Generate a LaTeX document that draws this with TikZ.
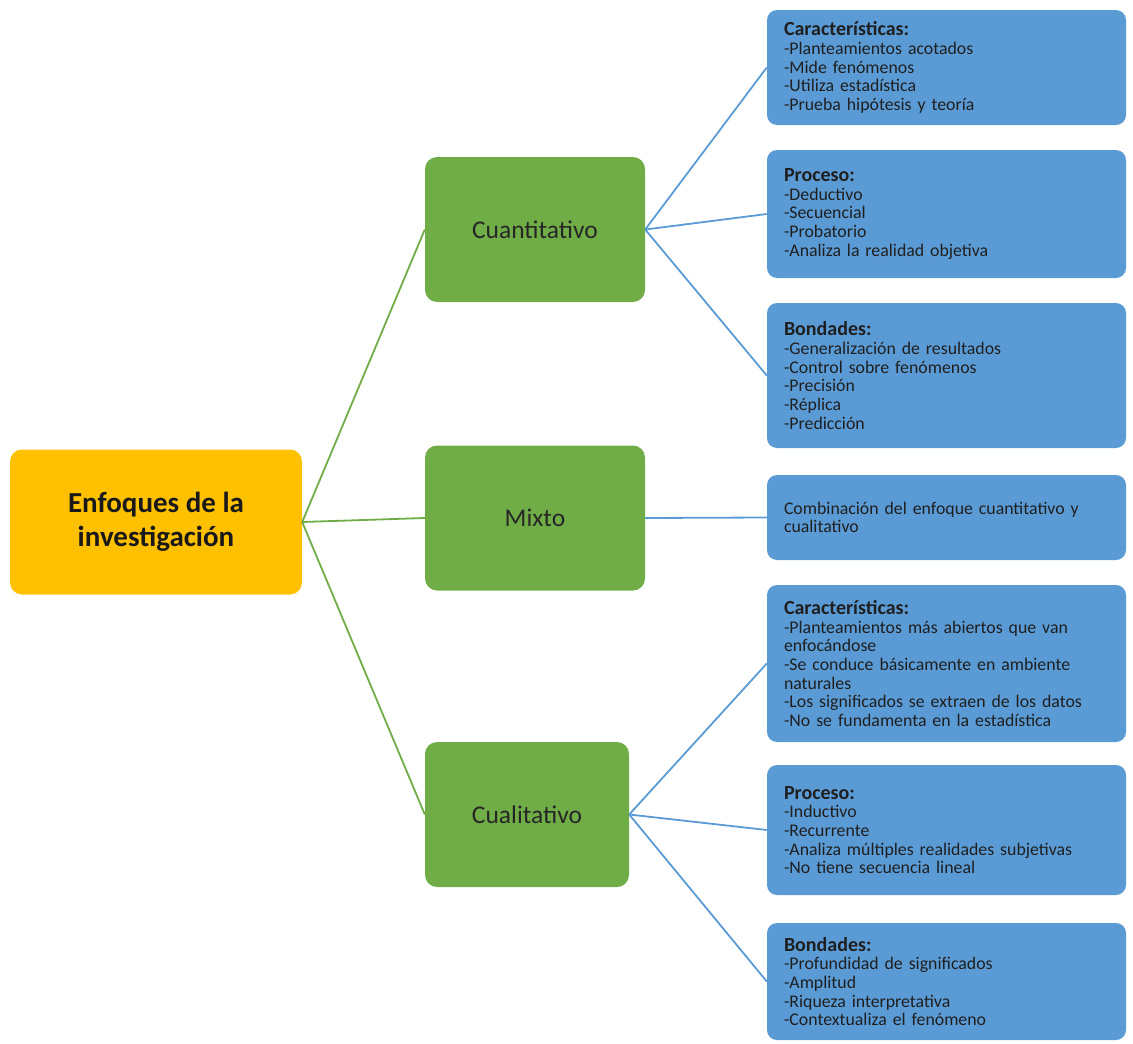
\documentclass[tikz,border=0pt]{standalone}
\usepackage{fontspec}
\setmainfont{Carlito}

\definecolor{rootyellow}{HTML}{FFC000}
\definecolor{approachgreen}{HTML}{70AD47}
\definecolor{infoblue}{HTML}{5B9BD5}

\newcommand{\boxhead}[1]{{\fontsize{20}{18.7}\selectfont\bfseries #1}}

\tikzset{
  rootbox/.style={fill=rootyellow, rounded corners=12pt, minimum width=292pt,
    minimum height=145pt, align=center, text=black!90,
    font=\fontsize{29}{34}\selectfont\bfseries},
  approachbox/.style={fill=approachgreen, rounded corners=12pt, minimum height=145pt,
    text=black!85, font=\fontsize{25.5}{30}\selectfont},
  infobox/.style={fill=infoblue, rounded corners=10pt, text width=325pt, inner xsep=17pt,
    align=left, text=black!88, font=\fontsize{17.8}{18.7}\selectfont},
  greenline/.style={draw=approachgreen, line width=1.8pt},
  blueline/.style={draw=infoblue, line width=1.8pt},
}

\begin{document}
\begin{tikzpicture}[x=1pt, y=-1pt]
\useasboundingbox (0,0) rectangle (1133,1044);

% Root
\node[rootbox] (enfoques) at (156,522) {Enfoques de la\\investigación};

% Approaches
\node[approachbox, minimum width=220pt] (cuanti) at (535,229.5) {Cuantitativo};
\node[approachbox, minimum width=220pt] (mixto) at (535,518) {Mixto};
\node[approachbox, minimum width=204pt] (cuali) at (527,814.5) {Cualitativo};

% Quantitative details
\node[infobox, minimum height=115pt] (cuantiCar) at (946.5,67.5)
  {\boxhead{Características:}\\-Planteamientos acotados\\-Mide fenómenos\\-Utiliza estadística\\-Prueba hipótesis y teoría};
\node[infobox, minimum height=128pt] (cuantiPro) at (946.5,214)
  {\boxhead{Proceso:}\\-Deductivo\\-Secuencial\\-Probatorio\\-Analiza la realidad objetiva};
\node[infobox, minimum height=145pt] (cuantiBon) at (946.5,375.5)
  {\boxhead{Bondades:}\\-Generalización de resultados\\-Control sobre fenómenos\\-Precisión\\-Réplica\\-Predicción};

% Mixed detail
\node[infobox, minimum height=85pt] (mixtoDesc) at (946.5,517.5)
  {Combinación del enfoque cuantitativo y\\cualitativo};

% Qualitative details
\node[infobox, minimum height=157pt] (cualiCar) at (946.5,663.5)
  {\boxhead{Características:}\\-Planteamientos más abiertos que van\\enfocándose\\-Se conduce básicamente en ambiente\\naturales\\-Los significados se extraen de los datos\\-No se fundamenta en la estadística};
\node[infobox, minimum height=130pt] (cualiPro) at (946.5,830)
  {\boxhead{Proceso:}\\-Inductivo\\-Recurrente\\-Analiza múltiples realidades subjetivas\\-No tiene secuencia lineal};
\node[infobox, minimum height=117pt] (cualiBon) at (946.5,981.5)
  {\boxhead{Bondades:}\\-Profundidad de significados\\-Amplitud\\-Riqueza interpretativa\\-Contextualiza el fenómeno};

% Connectors
\foreach \n in {cuanti, mixto, cuali}
  \draw[greenline] (enfoques.east) -- (\n.west);
\foreach \n in {cuantiCar, cuantiPro, cuantiBon}
  \draw[blueline] (cuanti.east) -- (\n.west);
\draw[blueline] (mixto.east) -- (mixtoDesc.west);
\foreach \n in {cualiCar, cualiPro, cualiBon}
  \draw[blueline] (cuali.east) -- (\n.west);
\end{tikzpicture}
\end{document}
